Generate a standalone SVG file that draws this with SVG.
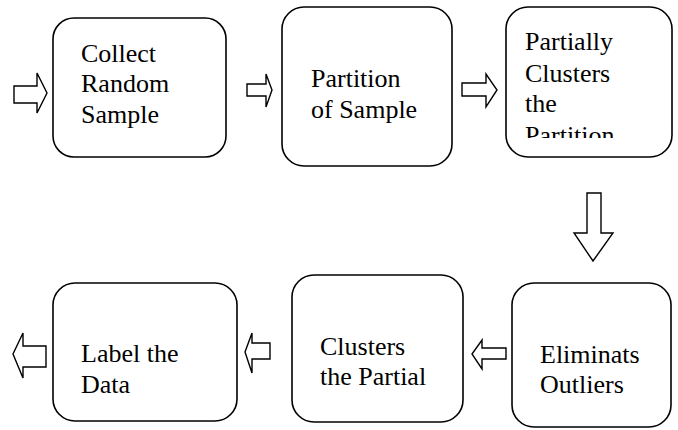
<svg xmlns="http://www.w3.org/2000/svg" width="678" height="430" viewBox="0 0 678 430">
<rect width="678" height="430" fill="#fff"/>
<g id="connectors" fill="#fff" stroke="#000" stroke-width="1.4">
<polygon points="14,86 37,86 37,73 47,93 37,113 37,103 14,103"/>
<polygon points="247,84 266,84 266,74 272,90 266,107 266,96 247,96"/>
<polygon points="462,83 486,83 486,74 497,90 486,107 486,96 462,96"/>
<polygon points="587,193 601,193 601,233 613,233 593,261 574,233 587,233"/>
<polygon points="506,348 482,348 482,340 472,354 482,369 482,359 506,359"/>
<polygon points="270,343 252,343 252,333 245,352 252,373 252,359 270,359"/>
<polygon points="46,346 23,346 23,333 13,354 23,378 23,367 46,367"/>
</g>
<g id="node1">
<rect fill="#fff" stroke="#000" stroke-width="1.6" x="53" y="18" width="173" height="139" rx="21"/>
<text font-family="Liberation Serif" font-size="26" x="81" y="62">Collect</text>
<text font-family="Liberation Serif" font-size="26" x="81" y="92">Random</text>
<text font-family="Liberation Serif" font-size="26" x="81" y="123">Sample</text>
</g>
<g id="node2">
<rect fill="#fff" stroke="#000" stroke-width="1.6" x="282" y="7" width="170" height="159" rx="22"/>
<text font-family="Liberation Serif" font-size="26" x="311" y="87">Partition</text>
<text font-family="Liberation Serif" font-size="26" x="311" y="118">of Sample</text>
</g>
<g id="node3">
<rect fill="#fff" stroke="#000" stroke-width="1.6" x="506" y="7" width="166" height="150" rx="22"/>
<text font-family="Liberation Serif" font-size="26" x="525" y="50">Partially</text>
<text font-family="Liberation Serif" font-size="26" x="525" y="82">Clusters</text>
<text font-family="Liberation Serif" font-size="26" x="525" y="112">the</text>
<svg x="506" y="7" width="166" height="131" viewBox="506 7 166 131" overflow="hidden">
<text font-family="Liberation Serif" font-size="26" x="525" y="144">Partition</text>
</svg>
</g>
<g id="node4">
<rect fill="#fff" stroke="#000" stroke-width="1.6" x="512" y="283" width="159" height="144" rx="22"/>
<text font-family="Liberation Serif" font-size="26" x="540" y="363">Eliminats</text>
<text font-family="Liberation Serif" font-size="26" x="540" y="393">Outliers</text>
</g>
<g id="node5">
<rect fill="#fff" stroke="#000" stroke-width="1.6" x="292" y="275" width="171" height="147" rx="22"/>
<text font-family="Liberation Serif" font-size="26" x="320" y="355">Clusters</text>
<text font-family="Liberation Serif" font-size="26" x="320" y="385">the Partial</text>
</g>
<g id="node6">
<rect fill="#fff" stroke="#000" stroke-width="1.6" x="53" y="283" width="184" height="138" rx="22"/>
<text font-family="Liberation Serif" font-size="26" x="81" y="362">Label the</text>
<text font-family="Liberation Serif" font-size="26" x="81" y="393">Data</text>
</g>
</svg>
